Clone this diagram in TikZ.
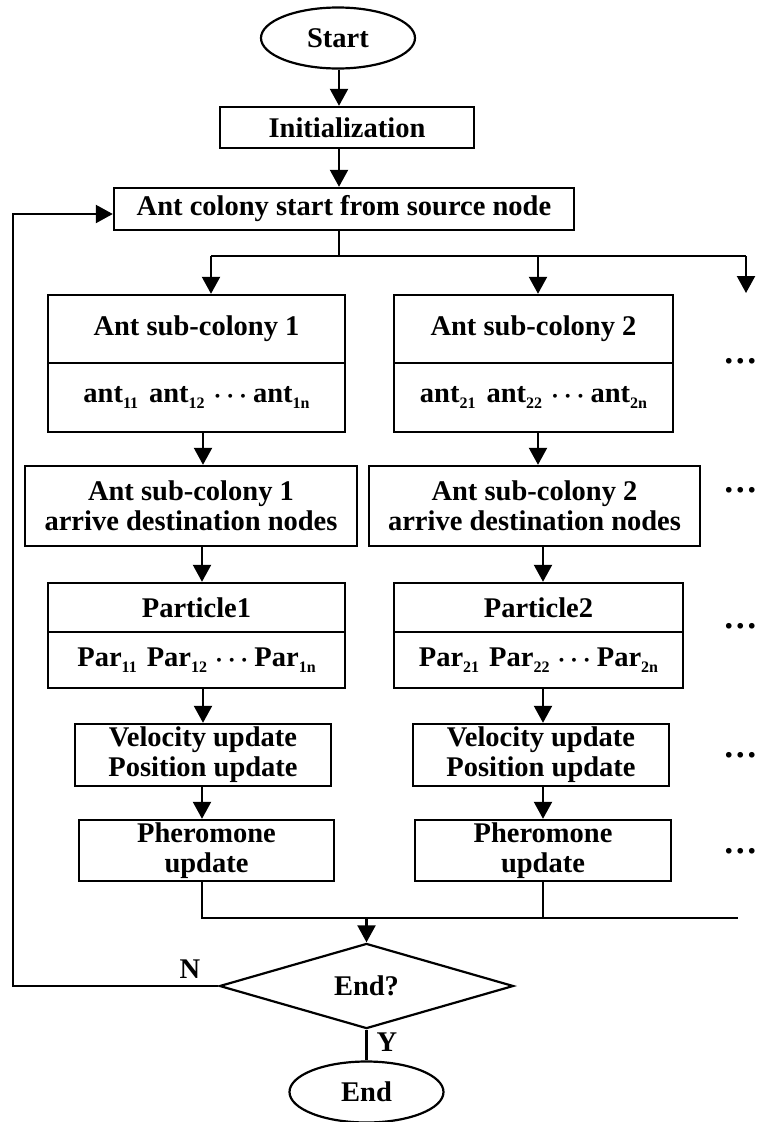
\documentclass[tikz,border=0pt]{standalone}
\usepackage{fontspec}
\setmainfont{Liberation Serif}
\newfontfamily\dejavu{DejaVu Sans}
\usetikzlibrary{arrows.meta,shapes.geometric}
\newcommand{\sbx}[1]{\raisebox{-0.22em}{\fontsize{16}{16}\selectfont #1}}
\newcommand{\mdots}{{\boldmath$\cdots$}}
\tikzset{
  txt/.style={font=\fontsize{28.5}{30}\selectfont\bfseries},
  box/.style={txt, draw, line width=2.4pt, inner sep=0pt, align=center},
  term/.style={txt, draw, ellipse, line width=2.2pt, inner sep=0pt, minimum width=154pt, minimum height=61pt},
  dec/.style={txt, draw, diamond, line width=2.2pt, inner sep=0pt, minimum width=294pt, minimum height=72pt},
  conn/.style={line width=2.2pt},
  arr/.style={conn, -{Triangle[width=18pt,length=17pt]}},
  dotsx/.style={font=\dejavu\fontsize{19.5}{20}\selectfont, inner sep=0pt, anchor=west},
  lbl/.style={txt, inner sep=0pt}
}
\begin{document}
\begin{tikzpicture}[x=1pt,y=-1pt]
\useasboundingbox (0,0) rectangle (759,1122);
\clip (0,0) rectangle (759,1122);
% nodes
\node[term] (start) at (338,38) {Start};
\node[box, minimum width=254pt, minimum height=41pt] (init) at (347,127.5) {Initialization};
\node[box, minimum width=460pt, minimum height=42pt] (src) at (344,209) {Ant colony start from source node};
\node[box, minimum width=297pt, minimum height=68pt] (sub1a) at (196.5,329) {Ant sub-colony 1};
\node[box, minimum width=297pt, minimum height=69pt] (sub1b) at (196.5,397.5) {ant\sbx{11}\hspace{11pt}ant\sbx{12}\hspace{9pt}\mdots\hspace{6pt}ant\sbx{1n}};
\node[box, minimum width=279pt, minimum height=68pt] (sub2a) at (533.5,329) {Ant sub-colony 2};
\node[box, minimum width=279pt, minimum height=69pt] (sub2b) at (533.5,397.5) {ant\sbx{21}\hspace{11pt}ant\sbx{22}\hspace{9pt}\mdots\hspace{6pt}ant\sbx{2n}};
\node[box, minimum width=332pt, minimum height=80pt] (arr1) at (191,506) {Ant sub-colony 1\\arrive destination nodes};
\node[box, minimum width=331pt, minimum height=80pt] (arr2) at (534.5,506) {Ant sub-colony 2\\arrive destination nodes};
\node[box, minimum width=297pt, minimum height=49pt] (par1a) at (196.5,607.5) {Particle1};
\node[box, minimum width=297pt, minimum height=56pt] (par1b) at (196.5,660) {Par\sbx{11}\hspace{10pt}Par\sbx{12}\hspace{8pt}\mdots\hspace{6pt}Par\sbx{1n}};
\node[box, minimum width=289pt, minimum height=49pt] (par2a) at (538.5,607.5) {Particle2};
\node[box, minimum width=289pt, minimum height=56pt] (par2b) at (538.5,660) {Par\sbx{21}\hspace{10pt}Par\sbx{22}\hspace{8pt}\mdots\hspace{6pt}Par\sbx{2n}};
\node[box, minimum width=256pt, minimum height=62pt] (vel1) at (203,755) {Velocity update\\Position update};
\node[box, minimum width=256pt, minimum height=62pt] (vel2) at (541,755) {Velocity update\\Position update};
\node[box, minimum width=255pt, minimum height=61pt] (ph1) at (206.5,850.5) {Pheromone\\update};
\node[box, minimum width=256pt, minimum height=61pt] (ph2) at (543,850.5) {Pheromone\\update};
\node[dec] (dia) at (366.5,986) {End?};
\node[term] (end) at (366.5,1092) {End};
\node[lbl] (N) at (190,969) {N};
\node[lbl] (Y) at (387,1042) {Y};
% dots
\node[dotsx] (d1) at (723,363) {•••};
\node[dotsx] (d2) at (723,492) {•••};
\node[dotsx] (d3) at (723,628) {•••};
\node[dotsx] (d4) at (723,757) {•••};
\node[dotsx] (d5) at (723,853) {•••};
% coordinates
\coordinate (a0) at (339,0);
\coordinate (b0) at (339,256);
\coordinate (t1) at (211,256);
\coordinate (t2) at (538,256);
\coordinate (t3) at (746,256);
\coordinate (t3e) at (746,293);
\coordinate (c1) at (203,0);
\coordinate (c1b) at (202,0);
\coordinate (c2) at (538,0);
\coordinate (c2b) at (543,0);
\coordinate (m) at (366.5,918);
\coordinate (mr) at (738,918);
\coordinate (lx) at (13,214);
% connectors
\draw[arr] (start.south -| a0) -- (init.north -| a0);
\draw[arr] (init.south -| a0) -- (src.north -| a0);
\draw[conn] (src.south -| a0) -- (b0);
\draw[conn] (t1) -- (t3);
\draw[arr] (t1) -- (t1 |- sub1a.north);
\draw[arr] (t2) -- (t2 |- sub2a.north);
\draw[arr] (t3) -- (t3e);
\draw[arr] (sub1b.south -| c1) -- (arr1.north -| c1);
\draw[arr] (sub2b.south -| c2) -- (arr2.north -| c2);
\draw[arr] (arr1.south -| c1b) -- (par1a.north -| c1b);
\draw[arr] (arr2.south -| c2b) -- (par2a.north -| c2b);
\draw[arr] (par1b.south -| c1) -- (vel1.north -| c1);
\draw[arr] (par2b.south -| c2b) -- (vel2.north -| c2b);
\draw[arr] (vel1.south -| c1b) -- (ph1.north -| c1b);
\draw[arr] (vel2.south -| c2b) -- (ph2.north -| c2b);
\draw[conn] (ph1.south -| c1b) |- (mr);
\draw[conn] (ph2.south -| c2b) -- (c2b |- m);
\draw[arr] (m) -- (dia.north);
\draw[arr] (dia.west) -| (lx) -- (src.west |- lx);
\draw[conn] (dia.south) -- (end.north);
\end{tikzpicture}
\end{document}
